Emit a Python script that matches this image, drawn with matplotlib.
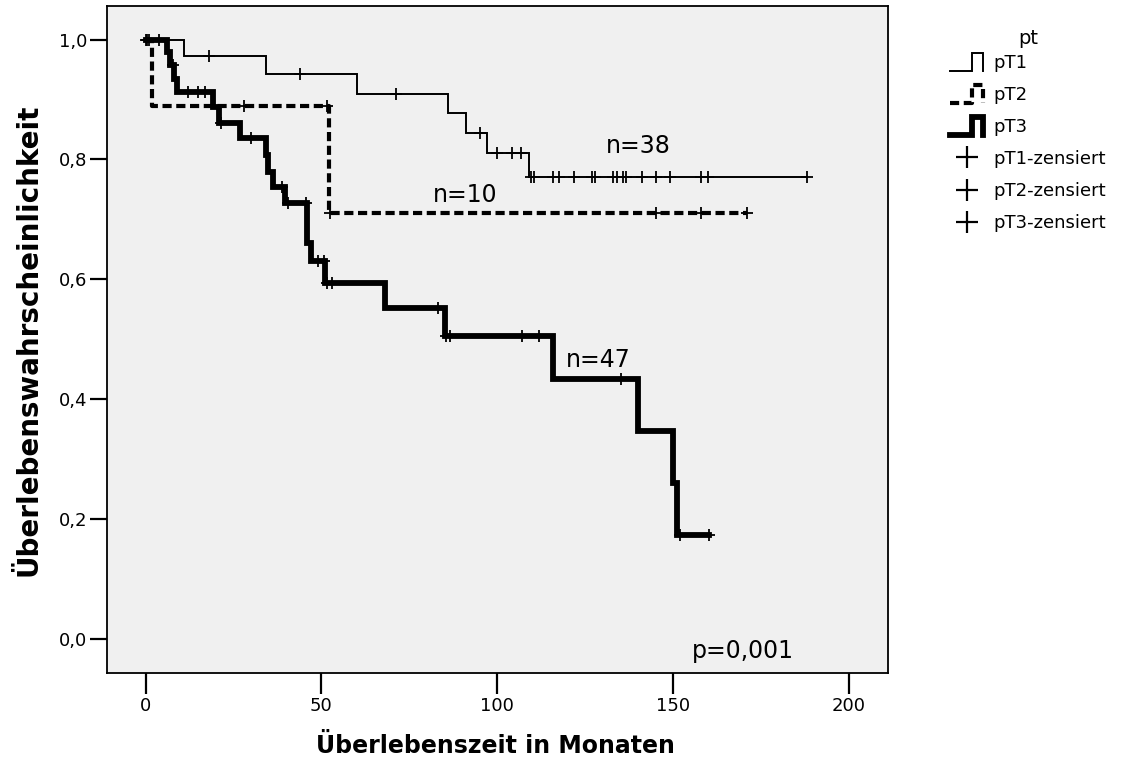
import numpy as np
import matplotlib.pyplot as plt
from matplotlib.lines import Line2D
from matplotlib.legend_handler import HandlerBase

# Kaplan-Meier steps per pT stage: event times (months) and survival after each step
pt1_times = [0, 11.0, 34.1, 60.0, 86.1, 91.1, 97.0, 109.1]
pt1_surv = [1.0, 0.972, 0.942, 0.910, 0.877, 0.844, 0.810, 0.770]
pt1_censored = [0.5, 3.8, 18.0, 43.9, 71.1, 95.1, 100.0, 104.1, 106.9,
                109.6, 110.5, 116.0, 117.6, 121.9, 127.1, 127.8, 133.0, 134.2,
                135.9, 136.6, 141.1, 145.1, 149.2, 157.9, 160.1, 188.1]

pt2_times = [0, 1.9, 52.2]
pt2_surv = [1.0, 0.889, 0.711]
pt2_censored = [1.0, 28.0, 51.5, 52.5, 145.1, 158.0, 171.0]

pt3_times = [0, 6.0, 7.0, 8.0, 8.8, 19.2, 20.9, 26.8, 34.1, 34.9, 36.3, 39.6,
             46.0, 47.0, 51.0, 68.1, 85.2, 116.0, 140.0, 150.1, 151.1]
pt3_surv = [1.0, 0.979, 0.957, 0.935, 0.913, 0.888, 0.860, 0.835, 0.807, 0.779,
            0.754, 0.727, 0.660, 0.630, 0.594, 0.553, 0.506, 0.434, 0.347,
            0.260, 0.173]
pt3_censored = [0.0, 7.9, 12.1, 15.0, 16.9, 21.3, 30.0, 38.7, 40.6, 45.6, 49.1,
                50.7, 51.7, 52.9, 83.1, 85.5, 86.6, 107.0, 112.0, 135.1, 152.0,
                160.3]

group_labels = ["pT1", "pT2", "pT3"]
group_n = ["n=38", "n=10", "n=47"]
p_text = "p=0,001"

x_ticks = [0, 50, 100, 150, 200]
y_ticks = [0.0, 0.2, 0.4, 0.6, 0.8, 1.0]


def surv_at(t, times, surv):
    idx = np.searchsorted(times, t, side="right") - 1
    return np.asarray(surv)[idx]


class StepHandler(HandlerBase):
    # draws the little "_|‾|" step glyph used in the legend
    def create_artists(self, legend, orig_handle, xdescent, ydescent,
                       width, height, fontsize, trans):
        x0, x1 = -xdescent, -xdescent + width
        xm = x0 + 0.66 * width
        y0, y1 = -ydescent - 0.25 * height, -ydescent + 1.15 * height
        line = Line2D([x0, xm, xm, x1, x1], [y0, y0, y1, y1, y0])
        line.update_from(orig_handle)
        line.set_solid_joinstyle("miter")
        line.set_transform(trans)
        return [line]


fig = plt.figure(figsize=(11.21, 7.66), dpi=100)
ax = fig.add_axes([107 / 1121, 93 / 766, 781 / 1121, 667 / 766])
ax.set_facecolor("#f0f0f0")

styles = [
    dict(lw=1.4),
    dict(lw=3.0, dashes=(2.2, 1.1)),
    dict(lw=4.2),
]
groups = [
    (pt1_times, pt1_surv, pt1_censored),
    (pt2_times, pt2_surv, pt2_censored),
    (pt3_times, pt3_surv, pt3_censored),
]

for (times, surv, cens), st in zip(groups, styles):
    end = max(cens)
    xs = list(times) + [end]
    ys = list(surv) + [surv[-1]]
    ax.step(xs, ys, where="post", color="black", solid_joinstyle="miter",
            dash_capstyle="butt", **st)
    ax.plot(cens, surv_at(cens, times, surv), linestyle="none", marker="+",
            color="black", markersize=8, markeredgewidth=1.3)

ax.text(140.1, 0.81, group_n[0], ha="center", va="baseline", fontsize=17)
ax.text(90.8, 0.729, group_n[1], ha="center", va="baseline", fontsize=17)
ax.text(128.7, 0.454, group_n[2], ha="center", va="baseline", fontsize=17)
ax.text(169.8, -0.031, p_text, ha="center", va="baseline", fontsize=17)

ax.set_xlim(-11, 211.2)
ax.set_ylim(-0.0567, 1.056)
ax.set_xticks(x_ticks)
ax.set_xticklabels([str(v) for v in x_ticks])
ax.set_yticks(y_ticks)
ax.set_yticklabels([f"{v:.1f}".replace(".", ",") for v in y_ticks])
ax.tick_params(axis="x", direction="out", length=15, width=1.6, pad=2.5,
               labelsize=13)
ax.tick_params(axis="y", direction="out", length=12, width=1.6, pad=2,
               labelsize=13)
for sp in ax.spines.values():
    sp.set_linewidth(1.3)

fig.text(495 / 1121, 1 - 753.3 / 766, "Überlebenszeit in Monaten",
         ha="center", va="baseline", fontsize=17, fontweight="bold")
fig.text(29 / 1121, 1 - 340 / 766, "Überlebenswahrscheinlichkeit",
         ha="center", va="center", rotation=90, fontsize=20, fontweight="bold")

line_handles = [Line2D([], [], color="black", **st) for st in styles]
cens_handles = [Line2D([], [], linestyle="none", marker="+", color="black",
                       markersize=16, markeredgewidth=1.6) for _ in group_labels]
handles = line_handles + cens_handles
labels = group_labels + [f"{g}-zensiert" for g in group_labels]
leg = fig.legend(handles, labels, loc="upper left",
                 bbox_to_anchor=(950 / 1121, 1 - 29 / 766),
                 frameon=False, title="pt", fontsize=13, title_fontsize=14,
                 handlelength=1.85, handletextpad=0.55, labelspacing=0.78,
                 borderaxespad=0, borderpad=0,
                 handler_map={h: StepHandler() for h in line_handles})
leg._legend_box.sep = 4

fig.savefig("out.png", dpi=100)
